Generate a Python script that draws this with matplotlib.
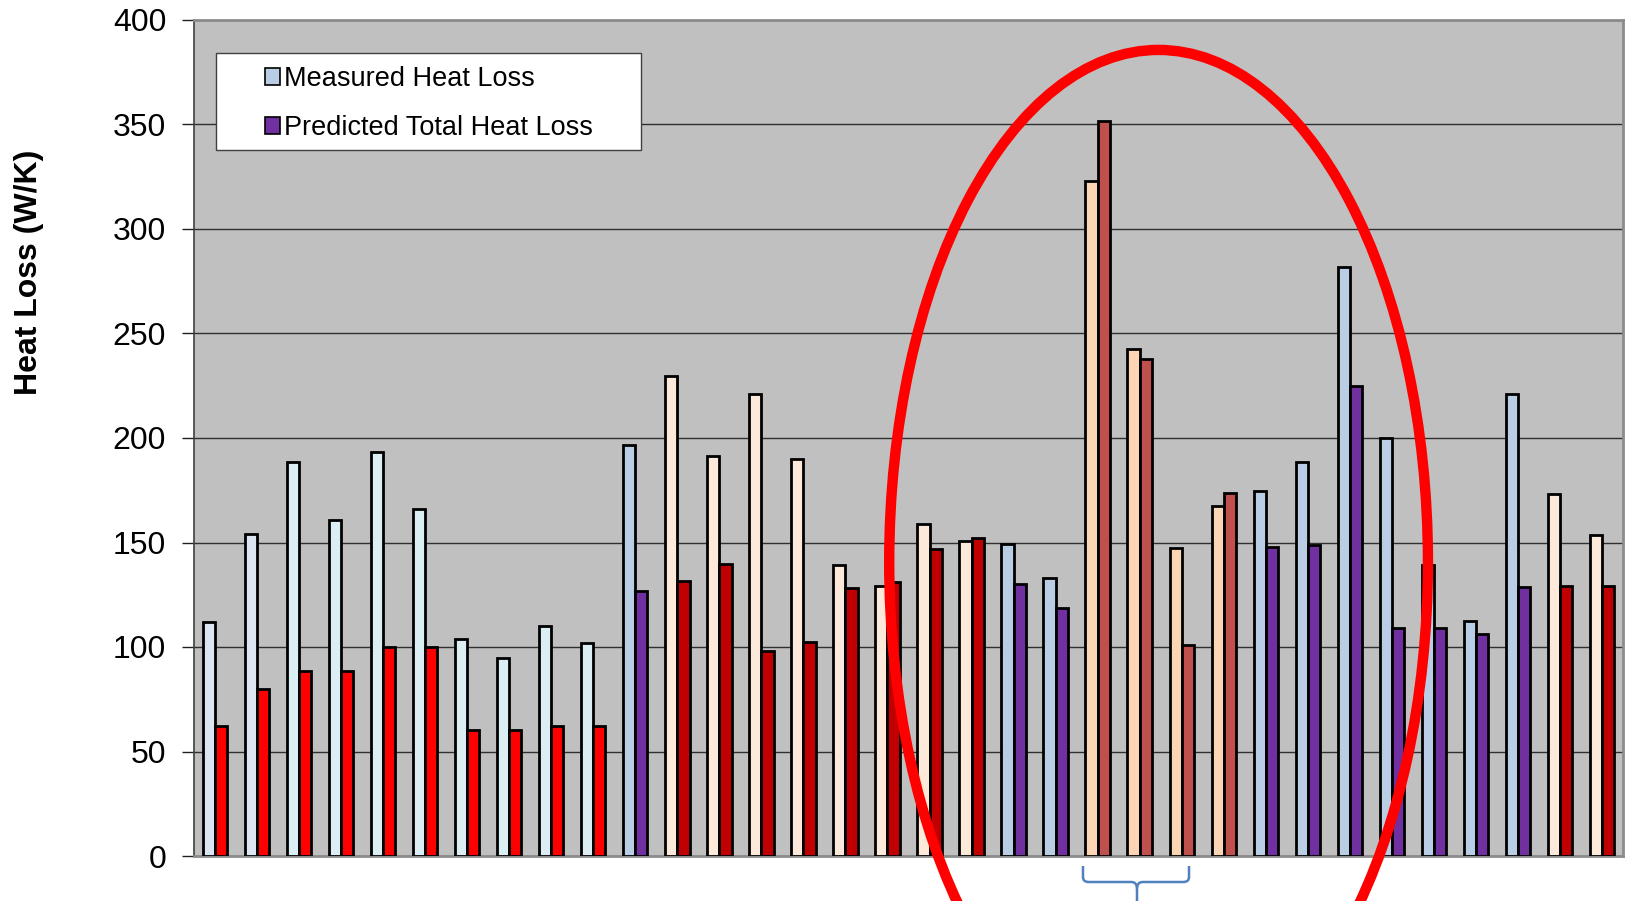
import numpy as np
import matplotlib
matplotlib.use("Agg")
import matplotlib.pyplot as plt
from matplotlib.patches import Ellipse, Patch, PathPatch, Rectangle
from matplotlib.path import Path

plt.rcParams["font.family"] = ["Liberation Sans", "DejaVu Sans"]

# measured vs predicted heat loss for each house (W/K)
measured = [112, 154, 188.5, 161, 193.5, 166, 104, 94.5, 110, 102,
            196.5, 229.5, 191.5, 221, 190, 139, 129, 159, 150.5,
            149.5, 133, 323, 242.5, 147.5, 167.5, 174.5, 188.5, 282, 200,
            139, 112.5, 221, 173, 153.5]
predicted = [62, 80, 88.5, 88.5, 100, 100, 60.5, 60.5, 62, 62,
             127, 131.5, 139.5, 98, 102.5, 128, 131, 147, 152,
             130, 118.5, 351.5, 238, 101, 173.5, 148, 149, 225, 109,
             109, 106, 128.5, 129, 129]

# colour pair used for each house
meas_colors = (["#DCE6F2"] * 2 + ["#DAEEF3"] * 8 + ["#B9CDE5"] + ["#FDE9D9"] * 8
               + ["#B9CDE5"] * 2 + ["#FCD5B4"] * 4 + ["#B9CDE5"] * 7 + ["#FDE9D9"] * 2)
pred_colors = (["#FF0000"] * 10 + ["#7030A0"] + ["#C00000"] * 8
               + ["#7030A0"] * 2 + ["#C0504D"] * 4 + ["#7030A0"] * 7 + ["#C00000"] * 2)

fig = plt.figure(figsize=(16.31, 9.01), dpi=100)
ax = fig.add_axes([194 / 1631, 45 / 901, 1429 / 1631, 836 / 901])
ax.set_facecolor("#C0C0C0")

x = np.arange(len(measured))
w = 0.29
ax.bar(x - w / 2, measured, w, color=meas_colors, edgecolor="black", linewidth=2, zorder=3)
ax.bar(x + w / 2, predicted, w, color=pred_colors, edgecolor="black", linewidth=2, zorder=3)

ax.set_xlim(-0.5, len(measured) - 0.5)
ax.set_ylim(0, 400)
ax.set_yticks(np.arange(0, 401, 50))
ax.set_xticks([])
ax.tick_params(axis="y", labelsize=23, length=9, width=1, pad=11, color="#202020")
ax.yaxis.grid(True, color="#303030", linewidth=1, zorder=0)
ax.set_axisbelow(True)
for side in ["top", "right", "bottom"]:
    ax.spines[side].set_color("#8C8C8C")
    ax.spines[side].set_linewidth(2)
ax.spines["left"].set_color("#404040")
ax.spines["left"].set_linewidth(1.2)

ax.set_ylabel("Heat Loss (W/K)", fontsize=23, fontweight="bold")
ax.yaxis.set_label_coords(-0.105, 0.6986)

# legend box, then the entries on top of it
ax.add_patch(Rectangle((0.0154, 0.8445), 0.2974, 0.116, transform=ax.transAxes,
                       facecolor="white", edgecolor="#404040", linewidth=1, zorder=5))
handles = [Patch(facecolor="#B9CDE5", edgecolor="black", linewidth=1.2),
           Patch(facecolor="#7030A0", edgecolor="black", linewidth=1.2)]
leg = ax.legend(handles, ["Measured Heat Loss", "Predicted Total Heat Loss"],
                loc="upper left", bbox_to_anchor=(0.0497, 0.9449), frameon=False,
                fontsize=19.5, handlelength=0.55, handleheight=0.55,
                handletextpad=0.15, labelspacing=0.85, borderpad=0, borderaxespad=0)
leg.set_zorder(6)

# highlight ring around the outlying houses
ring = Ellipse((0.675, 0.3517), 0.377, 1.225, transform=ax.transAxes,
               fill=False, edgecolor="#FF0000", linewidth=7.5, clip_on=False, zorder=7)
ax.add_patch(ring)

# brace under the group of three
x0, x1, xc = 0.6221, 0.6963, 0.6599
y0, y1, y2 = -0.012, -0.0311, -0.0586
r = 0.004
verts = [(x0, y0), (x0, y1 + 0.006), (x0, y1), (x0 + r, y1),
         (xc - r, y1), (xc, y1), (xc, y1 - 0.008), (xc, y2)]
codes = [Path.MOVETO, Path.LINETO, Path.CURVE3, Path.CURVE3,
         Path.LINETO, Path.CURVE3, Path.CURVE3, Path.LINETO]
ax.add_patch(PathPatch(Path(verts, codes), transform=ax.transAxes, fill=False,
                       edgecolor="#4F81BD", linewidth=1.8, clip_on=False))
verts = [(x1, y0), (x1, y1 + 0.006), (x1, y1), (x1 - r, y1),
         (xc + r, y1), (xc, y1), (xc, y1 - 0.008)]
codes = [Path.MOVETO, Path.LINETO, Path.CURVE3, Path.CURVE3,
         Path.LINETO, Path.CURVE3, Path.CURVE3]
ax.add_patch(PathPatch(Path(verts, codes), transform=ax.transAxes, fill=False,
                       edgecolor="#4F81BD", linewidth=1.8, clip_on=False))

fig.savefig("out.png", dpi=100)
